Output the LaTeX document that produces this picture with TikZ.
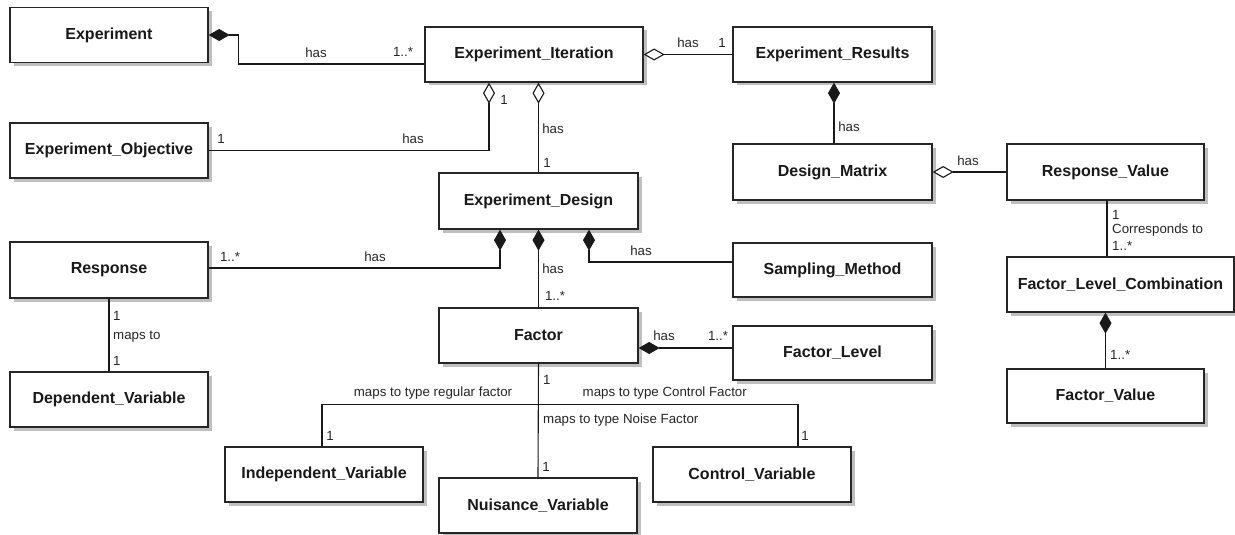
\documentclass[tikz,border=0pt]{standalone}
\usepackage{fontspec}
\setmainfont{Liberation Sans}
\usetikzlibrary{arrows.meta,shadows}
\newcommand\bxfont{\fontsize{16}{19}\selectfont\bfseries}
\newcommand\lbfont{\fontsize{13.3}{15}\selectfont}
\tikzset{
  cls/.style={draw=black!85, line width=1.3pt, fill=white, minimum width=198pt, minimum height=55pt,
    inner sep=0pt, font=\bxfont, text=black!90,
    general shadow={fill=black!25, shadow xshift=3.5pt, shadow yshift=-3.5pt}},
  lbl/.style={inner sep=0pt, font=\lbfont, text=black!85},
  conn/.style={line width=1.1pt, black!90},
  comp/.style={conn, {Diamond[length=21pt,width=12pt]}-},
  aggr/.style={conn, {Diamond[open,fill=white,length=21pt,width=12pt]}-},
}
\begin{document}
\begin{tikzpicture}[x=1pt,y=-1pt]
\useasboundingbox (0,0) rectangle (1235,535);
% classes
\node[cls] (exp) at (109,35) {Experiment};
\node[cls] (obj) at (109,150.5) {Experiment\_Objective};
\node[cls, minimum width=218pt] (iter) at (534,54.5) {Experiment\_Iteration};
\node[cls, minimum width=199pt] (res) at (832.5,54.5) {Experiment\_Results};
\node[cls, minimum width=199pt, minimum height=56pt] (design) at (538.5,201) {Experiment\_Design};
\node[cls, minimum width=199pt, minimum height=56pt] (dmat) at (832.5,172) {Design\_Matrix};
\node[cls, minimum width=197pt, minimum height=56pt] (rval) at (1105.5,172) {Response\_Value};
\node[cls, minimum height=56pt] (resp) at (109,270) {Response};
\node[cls, minimum width=199pt, minimum height=54pt] (samp) at (832.5,270) {Sampling\_Method};
\node[cls, minimum width=227pt] (flc) at (1120.5,284.5) {Factor\_Level\_Combination};
\node[cls, minimum width=199pt] (factor) at (538.5,335.5) {Factor};
\node[cls, minimum width=199pt, minimum height=54pt] (flevel) at (832.5,353) {Factor\_Level};
\node[cls, minimum width=197pt, minimum height=54pt] (fval) at (1105.5,396) {Factor\_Value};
\node[cls] (depv) at (109,399.5) {Dependent\_Variable};
\node[cls] (indep) at (324,474.5) {Independent\_Variable};
\node[cls] (nuis) at (538,505.5) {Nuisance\_Variable};
\node[cls] (ctrl) at (752,474.5) {Control\_Variable};
% connectors
\draw[comp] (exp.east) -- ++(30,0) |- ([yshift=-9.5pt]iter.west);
\draw[aggr] ([xshift=-45pt]iter.south) |- (obj.east);
\draw[aggr] (design.north |- iter.south) -- (design.north);
\draw[aggr] (iter.east) -- (res.west);
\draw[comp] ([xshift=1.5pt]res.south) -- ([xshift=1.5pt]dmat.north);
\draw[aggr] (dmat.east) -- (rval.west);
\draw[conn] ([xshift=1.5pt]rval.south) -- ([xshift=1.5pt]rval.south |- flc.north);
\draw[comp] (fval.north |- flc.south) -- (fval.north);
\draw[comp] ([xshift=-38.5pt]design.south) |- ([yshift=2pt]resp.east);
\draw[comp] (design.south) -- (factor.north);
\draw[comp] ([xshift=50.5pt]design.south) |- ([yshift=8pt]samp.west);
\draw[comp] ([yshift=-12.5pt]factor.east) -- ([yshift=5pt]flevel.west);
\draw[conn] (resp.south) -- (depv.north);
\draw[conn] (factor.south) -- ++(0,41) -| ([xshift=-2pt]indep.north);
\draw[conn] (factor.south) -- ++(0,41) -| ([xshift=46pt]ctrl.north);
\draw[conn] (factor.south) -- (nuis.north);
% labels
\node[lbl] (l1) at (316,53) {has};
\node[lbl] (l2) at (403,52) {1..*};
\node[lbl] (l3) at (221,139) {1};
\node[lbl] (l4) at (413,139) {has};
\node[lbl] (l5) at (504,100) {1};
\node[lbl] (l6) at (553,129) {has};
\node[lbl] (l7) at (547,163) {1};
\node[lbl] (l8) at (688,43) {has};
\node[lbl] (l9) at (722,43) {1};
\node[lbl] (l10) at (849,127) {has};
\node[lbl] (l11) at (968,161) {has};
\node[lbl, anchor=west] (l12) at (1112,215) {1};
\node[lbl, anchor=west] (l13) at (1112,230) {Corresponds to};
\node[lbl, anchor=west] (l14) at (1112,246) {1..*};
\node[lbl, anchor=west] (l15) at (1110,355) {1..*};
\node[lbl] (l16) at (230,257) {1..*};
\node[lbl] (l17) at (375,257) {has};
\node[lbl] (l18) at (553,269) {has};
\node[lbl] (l19) at (555,296) {1..*};
\node[lbl] (l20) at (641,251) {has};
\node[lbl] (l21) at (664,336) {has};
\node[lbl] (l22) at (718,336) {1..*};
\node[lbl, anchor=west] (l23) at (113,316) {1};
\node[lbl, anchor=west] (l24) at (113,337) {maps to};
\node[lbl, anchor=west] (l25) at (113,361) {1};
\node[lbl, anchor=west] (l26) at (543,380) {1};
\node[lbl] (l27) at (433,393) {maps to type regular factor};
\node[lbl, anchor=east] (l28) at (747,393) {maps to type Control Factor};
\node[lbl, anchor=west] (l29) at (543,420) {maps to type Noise Factor};
\node[lbl] (l30) at (330,436) {1};
\node[lbl] (l31) at (546,467) {1};
\node[lbl] (l32) at (805,436) {1};
\end{tikzpicture}
\end{document}
